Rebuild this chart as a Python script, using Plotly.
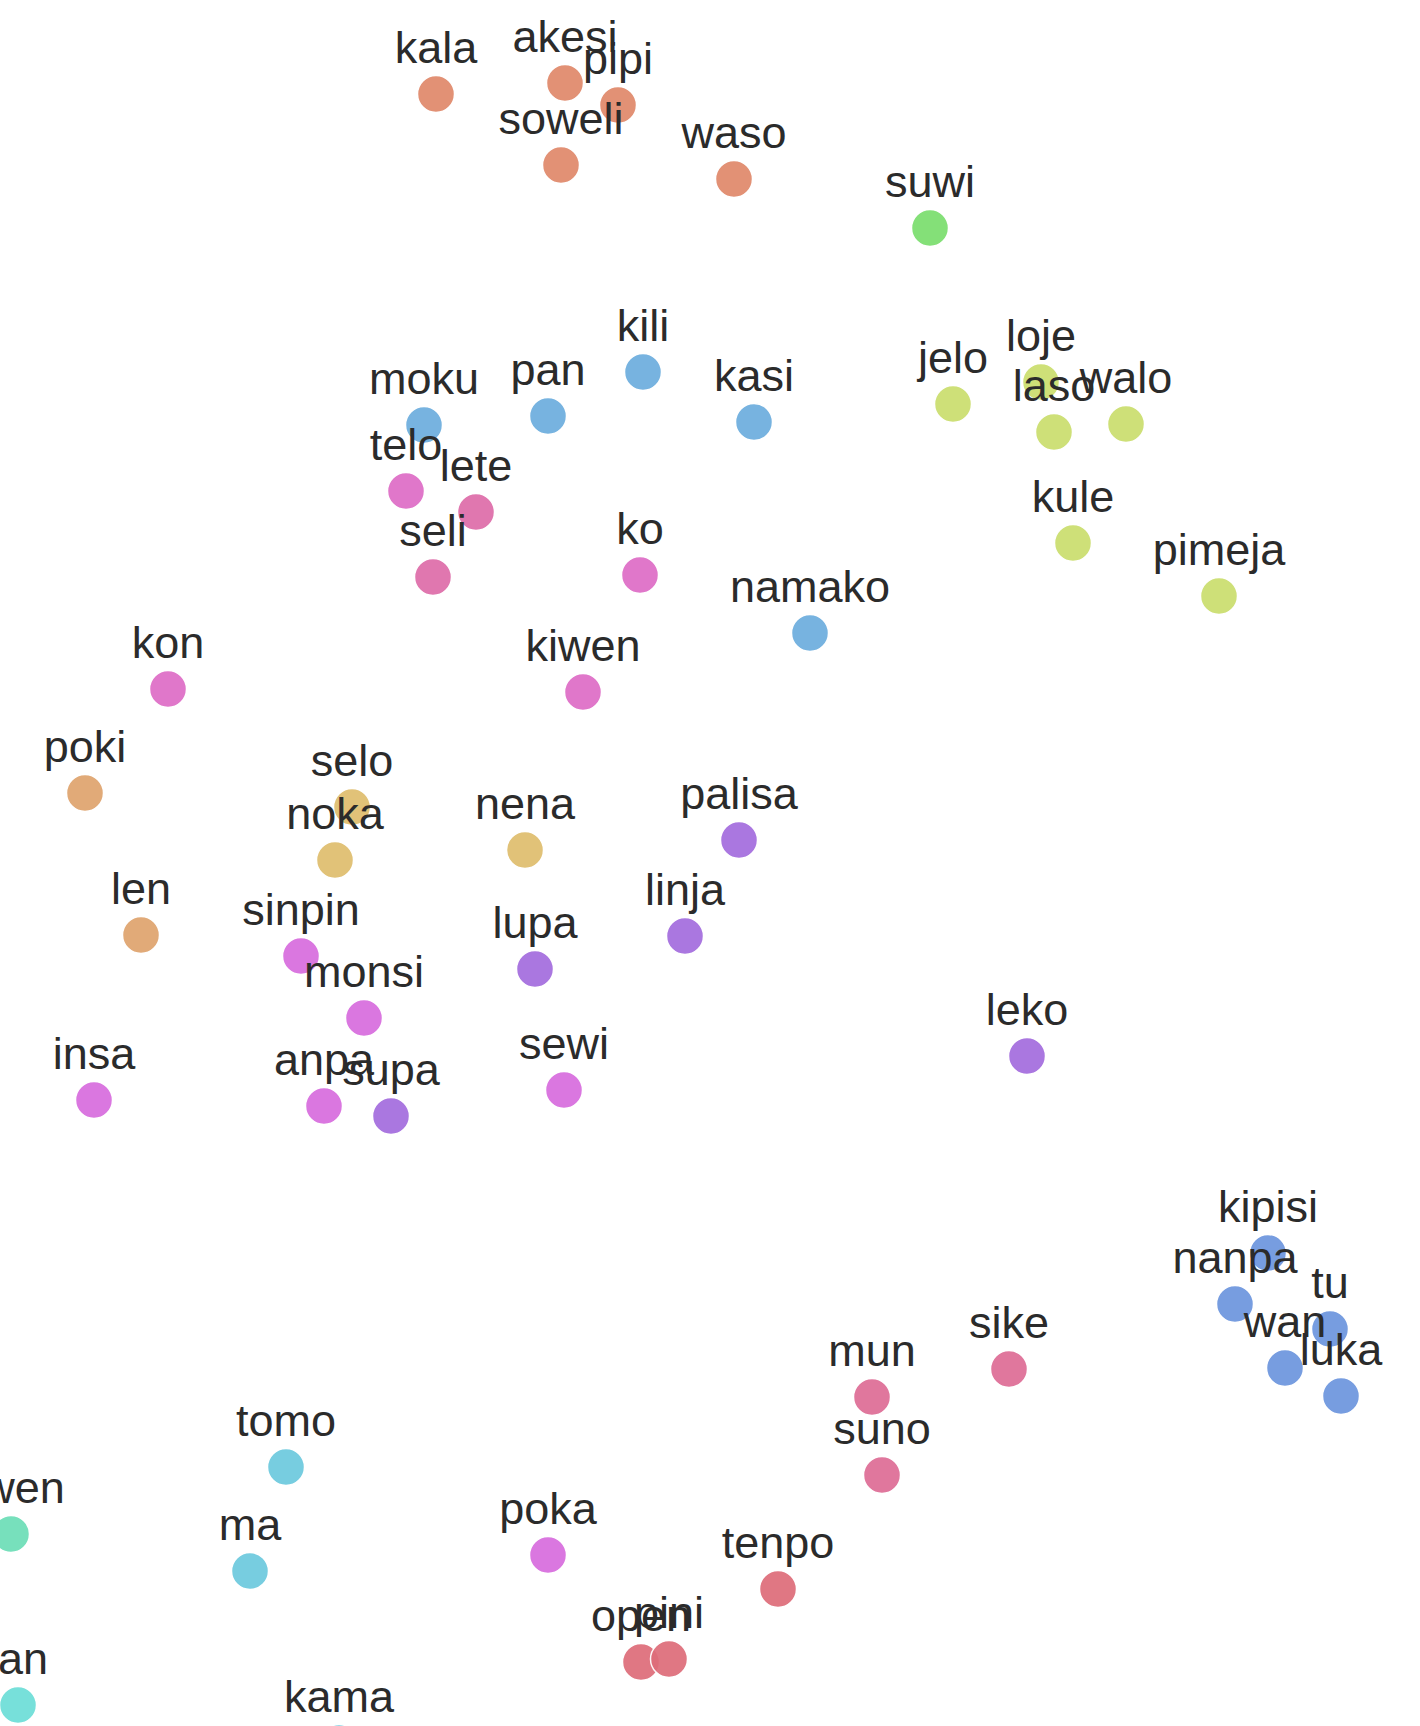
import plotly.graph_objects as go

# Word labels, positions (embedding coordinates) and cluster groups
words = ["kala", "akesi", "pipi", "soweli", "waso",
         "suwi",
         "jelo", "loje", "laso", "walo", "kule", "pimeja",
         "kili", "moku", "pan", "kasi", "namako",
         "telo", "ko", "kon", "kiwen",
         "lete", "seli",
         "poki", "len",
         "selo", "noka", "nena",
         "palisa", "linja", "lupa", "leko", "supa",
         "sinpin", "monsi", "insa", "anpa", "sewi", "poka",
         "kipisi", "nanpa", "tu", "wan", "luka",
         "mun", "sike", "suno",
         "tenpo", "open", "pini",
         "tomo", "ma", "kama",
         "awen", "jan"]

x_vals = [4.36, 5.65, 6.18, 5.61, 7.34,
          9.30,
          9.53, 10.41, 10.54, 11.26, 10.73, 12.19,
          6.43, 4.24, 5.48, 7.54, 8.10,
          4.06, 6.40, 1.68, 5.83,
          4.76, 4.33,
          0.85, 1.41,
          3.52, 3.35, 5.25,
          7.39, 6.85, 5.35, 10.27, 3.91,
          3.01, 3.64, 0.94, 3.24, 5.64, 5.48,
          12.68, 12.35, 13.30, 12.85, 13.41,
          8.72, 10.09, 8.82,
          7.78, 6.41, 6.69,
          2.86, 2.50, 3.39,
          0.11, 0.18]

y_vals = [-0.94, -0.83, -1.05, -1.65, -1.79,
          -2.28,
          -4.04, -3.82, -4.32, -4.24, -5.43, -5.96,
          -3.72, -4.25, -4.16, -4.22, -6.33,
          -4.91, -5.75, -6.89, -6.92,
          -5.12, -5.77,
          -7.93, -9.35,
          -8.07, -8.60, -8.50,
          -8.40, -9.36, -9.69, -10.56, -11.16,
          -9.56, -10.18, -11.00, -11.06, -10.90, -15.55,
          -12.53, -13.04, -13.29, -13.68, -13.96,
          -13.97, -13.69, -14.75,
          -15.89, -16.62, -16.59,
          -14.67, -15.71, -17.43,
          -15.34, -17.05]

groups = ["animal"] * 5 + ["sweet"] + ["colour"] * 6 + ["plant"] * 5 + \
         ["fluid"] * 4 + ["heat"] * 2 + ["container"] * 2 + ["shape"] * 3 + \
         ["line"] * 5 + ["side"] * 6 + ["number"] * 5 + ["sky"] * 3 + \
         ["time"] * 3 + ["place"] * 3 + ["stay"] + ["person"]

group_colors = {
    "animal": "#E0896B",
    "sweet": "#7BDE6E",
    "colour": "#CBDE6E",
    "plant": "#6DAEDE",
    "fluid": "#DE6DC6",
    "heat": "#DE6DA9",
    "container": "#DFA46E",
    "shape": "#DFBE6E",
    "line": "#A46DDE",
    "side": "#D86DDE",
    "number": "#6D96DE",
    "sky": "#DE6D96",
    "time": "#DE6D7A",
    "place": "#6DCADE",
    "stay": "#6DDEB8",
    "person": "#6DDED8",
}

colors = [group_colors[g] for g in groups]

fig = go.Figure()

# coloured dots
fig.add_trace(go.Scatter(
    x=x_vals,
    y=y_vals,
    mode="markers",
    marker=dict(size=37, color=colors, opacity=0.93,
                line=dict(color="white", width=1.5)),
    cliponaxis=True,
    hoverinfo="skip",
    showlegend=False,
))

# labels drawn on top of all dots
fig.add_trace(go.Scatter(
    x=x_vals,
    y=y_vals,
    mode="markers+text",
    text=words,
    textposition="top center",
    textfont=dict(family="Liberation Sans, Arial, sans-serif", size=45, color="#2b2b2b"),
    marker=dict(size=30, color="rgba(0,0,0,0)", opacity=0),
    cliponaxis=True,
    hoverinfo="text",
    showlegend=False,
))

fig.update_layout(
    width=1420,
    height=1726,
    margin=dict(l=0, r=0, t=0, b=0),
    paper_bgcolor="white",
    plot_bgcolor="white",
    xaxis=dict(range=[0, 14.20], visible=False, showgrid=False, zeroline=False),
    yaxis=dict(range=[-17.26, 0], visible=False, showgrid=False, zeroline=False),
)

fig.write_html("out.html", config={"displayModeBar": False},
               post_script="document.body.style.margin='0';")
